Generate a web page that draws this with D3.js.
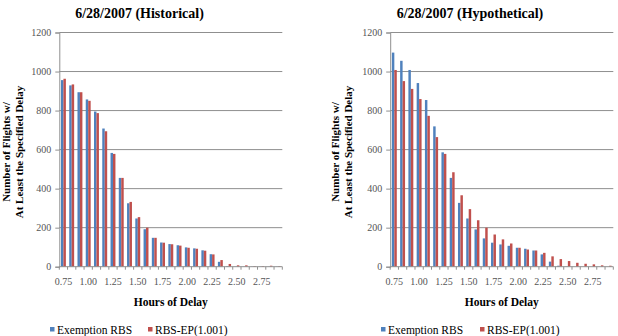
<!DOCTYPE html>
<html>
<head>
<meta charset="utf-8">
<script src="https://cdn.jsdelivr.net/npm/d3@7"></script>
<style>
  html, body { margin: 0; padding: 0; background: #ffffff; }
  svg { display: block; }
  text { font-family: "Liberation Serif", "Times New Roman", serif; }
</style>
</head>
<body>
<svg id="chart" width="618" height="336"></svg>
<script>
// ---- data ----
const hours = ["0.75","0.83","0.92","1.00","1.08","1.17","1.25","1.33","1.42","1.50","1.58","1.67","1.75","1.83","1.92","2.00","2.08","2.17","2.25","2.33","2.42","2.50","2.58","2.67","2.75","2.83","2.92"];
const shownTickLabels = ["0.75","1.00","1.25","1.50","1.75","2.00","2.25","2.50","2.75"];
const yTicks = [0, 200, 400, 600, 800, 1000, 1200];
const seriesNames = ["Exemption RBS", "RBS-EP(1.001)"];
const seriesColors = ["#4F81BD", "#C0504D"];

const histExemption = [956, 929, 894, 857, 795, 708, 583, 455, 325, 247, 192, 148, 124, 116, 110, 99, 94, 84, 64, 25, 3, 1, 1, 1, 1, 1, 1];
const histRbsEp     = [963, 934, 894, 850, 787, 694, 578, 455, 332, 254, 200, 148, 123, 115, 108, 97, 92, 82, 63, 34, 14, 7, 7, 3, 3, 5, 3];

const hypoExemption = [1097, 1055, 1008, 941, 854, 719, 586, 455, 327, 247, 191, 145, 123, 114, 107, 97, 92, 83, 63, 26, 5, 1, 0, 0, 0, 0, 0];
const hypoRbsEp     = [1008, 951, 911, 859, 773, 664, 578, 484, 366, 295, 238, 200, 165, 140, 119, 97, 88, 83, 71, 53, 39, 29, 20, 15, 12, 7, 5];

const titles = ["6/28/2007 (Historical)", "6/28/2007 (Hypothetical)"];

// ---- drawing ----
const svg = d3.select("#chart");

function drawChart(cfg) {
  const g = svg.append("g");
  const x = d3.scaleBand().domain(hours).range([cfg.x0, cfg.x1]).padding(0);
  const y = d3.scaleLinear().domain([0, 1200]).range([266.7, 32.5]);
  const xs = d3.scaleBand().domain(seriesNames).range([0, x.bandwidth()]).paddingInner(0).paddingOuter(0.68);
  const gridColor = "#8f8f8f";
  const labelColor = "#555555";

  // gridlines
  g.append("g").selectAll("line").data(yTicks.filter(d => d > 0)).join("line")
    .attr("x1", cfg.x0).attr("x2", cfg.x1)
    .attr("y1", d => y(d)).attr("y2", d => y(d))
    .attr("stroke", gridColor).attr("stroke-width", 1);

  // bars
  const series = [cfg.a, cfg.b];
  series.forEach((vals, si) => {
    g.append("g").selectAll("rect").data(vals.map((v, i) => ({h: hours[i], v}))).join("rect")
      .attr("x", d => x(d.h) + xs(seriesNames[si]))
      .attr("width", xs.bandwidth())
      .attr("y", d => y(d.v))
      .attr("height", d => y(0) - y(d.v))
      .attr("fill", seriesColors[si]);
  });

  // y axis
  const yAxis = d3.axisLeft(y).tickValues(yTicks).tickSize(4).tickPadding(4).tickFormat(d3.format("d"));
  const ya = g.append("g").attr("transform", `translate(${cfg.x0},0)`).call(yAxis);
  ya.select(".domain").attr("stroke", gridColor);
  ya.selectAll(".tick line").attr("stroke", gridColor);
  ya.selectAll(".tick text").attr("fill", labelColor)
    .style("font-family", "'Liberation Serif', serif").style("font-size", "10px");

  // x axis line
  g.append("line").attr("x1", cfg.x0).attr("x2", cfg.x1)
    .attr("y1", y(0)).attr("y2", y(0)).attr("stroke", gridColor);
  // x ticks at category boundaries
  const bounds = hours.map(h => x(h)).concat([cfg.x1]);
  g.append("g").selectAll("line").data(bounds).join("line")
    .attr("x1", d => d).attr("x2", d => d)
    .attr("y1", y(0)).attr("y2", y(0) + 3)
    .attr("stroke", gridColor);
  // x labels (every third category)
  g.append("g").selectAll("text").data(shownTickLabels).join("text")
    .attr("x", d => x(hours[hours.indexOf(d)]) + x.bandwidth() / 2)
    .attr("y", 284.5)
    .attr("text-anchor", "middle")
    .attr("fill", labelColor)
    .style("font-size", "10px")
    .text(d => d);

  // title
  g.append("text").attr("x", cfg.titleX).attr("y", 17.5)
    .attr("text-anchor", "middle").style("font-weight", "bold").style("font-size", "14px")
    .attr("fill", "#000").text(cfg.title);

  // x title
  g.append("text").attr("x", (cfg.x0 + cfg.x1) / 2).attr("y", 305.5)
    .attr("text-anchor", "middle").style("font-weight", "bold").style("font-size", "11.5px")
    .attr("fill", "#000").text("Hours of Delay");

  // y title (two lines)
  const yt = g.append("text")
    .attr("transform", `translate(${cfg.ytX},152) rotate(-90)`)
    .attr("text-anchor", "middle").style("font-weight", "bold").style("font-size", "11px")
    .attr("fill", "#000");
  yt.append("tspan").attr("x", 0).attr("dy", 0).text("Number of Flights w/");
  yt.append("tspan").attr("x", 0).attr("dy", 12.5).text("At Least the Specified Delay");

  // legend
  const lg = g.append("g");
  cfg.legend.forEach((lx, si) => {
    lg.append("rect").attr("x", lx).attr("y", 327).attr("width", 4.5).attr("height", 4.5)
      .attr("fill", seriesColors[si]);
    lg.append("text").attr("x", lx + 7).attr("y", 334)
      .style("font-size", "11.5px").attr("fill", "#000").text(seriesNames[si]);
  });
}

drawChart({x0: 59.3, x1: 282.3, a: histExemption, b: histRbsEp, title: titles[0], titleX: 139.5, ytX: 10, legend: [50, 148]});
drawChart({x0: 390.2, x1: 613.3, a: hypoExemption, b: hypoRbsEp, title: titles[1], titleX: 470, ytX: 339, legend: [381, 480]});
</script>
</body>
</html>
